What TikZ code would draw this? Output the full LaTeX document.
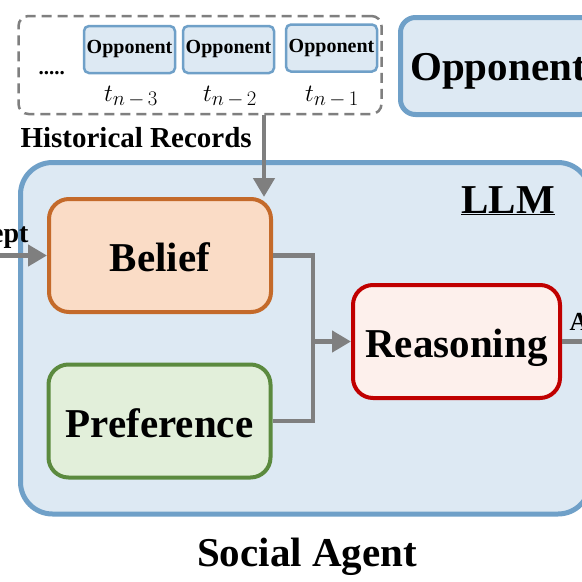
\documentclass[tikz,border=0pt]{standalone}
\usepackage{fontspec}
\setmainfont{Liberation Serif}
\usetikzlibrary{arrows.meta}
\DeclareMathSizes{26}{26}{21}{16}

\definecolor{llmblue}{HTML}{6FA0C8}
\definecolor{llmfill}{HTML}{DDE9F3}
\definecolor{beliefline}{HTML}{C46A2A}
\definecolor{belieffill}{HTML}{FADCC6}
\definecolor{prefline}{HTML}{5B8A3E}
\definecolor{preffill}{HTML}{E2EFDA}
\definecolor{reasonline}{HTML}{C00000}
\definecolor{reasonfill}{HTML}{FDF0EC}
\definecolor{linkgray}{HTML}{7F7F7F}
\newcommand{\pxfont}[1]{\fontsize{#1}{#1}\selectfont\bfseries}

\begin{document}
\begin{tikzpicture}[x=1pt,y=-1pt,
    module/.style={draw, rounded corners=20pt, line width=4pt, minimum width=222pt, minimum height=113pt, inner sep=0pt, text height=32pt, text depth=0pt, font=\pxfont{41}},
    record/.style={draw=llmblue, fill=llmfill, rounded corners=5pt, line width=2.5pt, minimum width=91pt, minimum height=47pt, inner sep=0pt, font=\pxfont{20}},
    link/.style={draw=linkgray, line width=4.5pt},
    flow/.style={link, -{Triangle[length=19pt,width=21pt]}},
  ]
        \clip (0,0) rectangle (582,582);
        \fill[white] (0,0) rectangle (582,582);

        % historical records
        \node[draw=linkgray, line width=2.5pt, dash pattern=on 10pt off 6pt, rounded corners=10pt, minimum width=363pt, minimum height=98pt] (hist) at (200,65) {};
        \node[anchor=base west, font=\pxfont{21}] (dots) at (35,74) {.....};
        \node[record] (opp3) at (129.5,49.5) {Opponent};
        \node[record] (opp2) at (228.5,49.5) {Opponent};
        \node[record] (opp1) at (331.5,48) {Opponent};
        \node[anchor=base, font=\fontsize{26}{26}\selectfont] (t3) at (131,101) {$t_{n\mkern3mu-\mkern3mu3}$};
        \node[anchor=base, font=\fontsize{26}{26}\selectfont] (t2) at (230,101) {$t_{n\mkern3mu-\mkern3mu2}$};
        \node[anchor=base, font=\fontsize{26}{26}\selectfont] (t1) at (332,101) {$t_{n\mkern3mu-\mkern3mu1}$};
        \node[anchor=base west, font=\pxfont{29}] (histname) at (17,147) {Historical Records};

        % opponent
        \node[draw=llmblue, fill=llmfill, line width=5pt, rounded corners=15pt, minimum width=195pt, minimum height=97pt, inner sep=0pt, text height=28pt, text depth=0pt, font=\pxfont{41}] (opp) at (498,66) {Opponent};

        % social agent
        \node[draw=llmblue, fill=llmfill, line width=5pt, rounded corners=32pt, minimum width=569.5pt, minimum height=351.5pt] (llm) at (305.25,338.25) {};
        \node[anchor=base, font=\pxfont{41}] (llmname) at (508,213) {\underline{LLM}};

        \node[module, draw=beliefline, fill=belieffill] (belief) at (160,255.5) {Belief};
        \node[module, draw=prefline, fill=preffill] (pref) at (159.5,421) {Preference};
        \node[module, draw=reasonline, fill=reasonfill, minimum width=207pt] (reason) at (456.5,341.5) {Reasoning};

        \coordinate (bin) at ([xshift=-9pt]belief.north east);
        \coordinate (merge) at ([xshift=-38pt]reason.west);
        \coordinate (inp) at (-5,255.5);
        \coordinate (outp) at (600,341.5);

        \draw[flow] (hist.south -| bin) -- (bin);
        \draw[flow] (inp) -- (belief.west);
        \draw[link] (belief.east) -| (merge);
        \draw[link] (pref.east) -| (merge);
        \draw[flow] (merge) -- (reason.west);
        \draw[link] (reason.east) -- (outp);

        \node[anchor=base east, font=\pxfont{28}] (inname) at (32,242) {ept};
        \node[anchor=base west, font=\pxfont{26}] (outname) at (566,330) {A};

        \node[anchor=base, font=\pxfont{41}] (agentname) at (307,566) {Social Agent};
\end{tikzpicture}
\end{document}
